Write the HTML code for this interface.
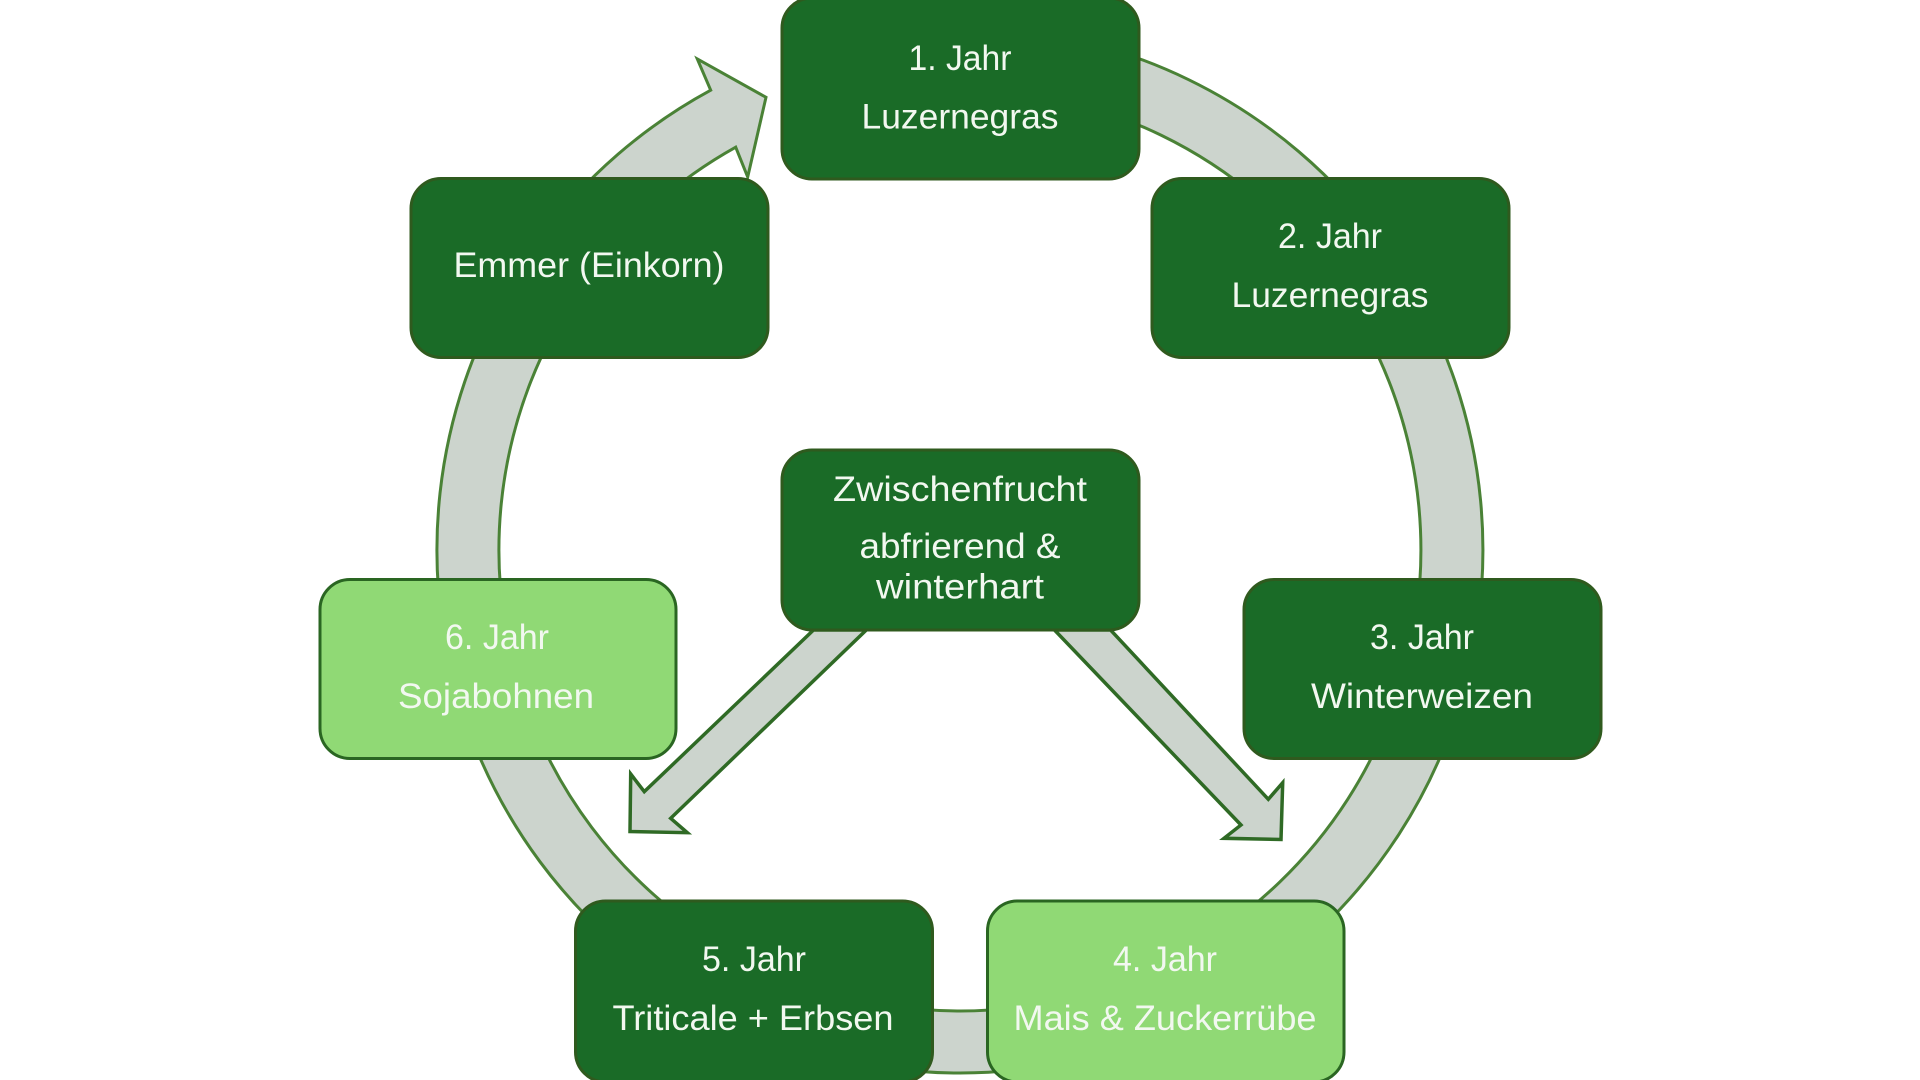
<!DOCTYPE html>
<html lang="de">
<head>
<meta charset="utf-8">
<title>Fruchtfolge</title>
<style>
html,body{margin:0;padding:0;background:#fff;width:1920px;height:1080px;overflow:hidden}
svg{display:block}
text{font-family:"Liberation Sans",sans-serif;font-size:35px;fill:#f2f8f0;text-anchor:middle}
.d{fill:#1a6b27;stroke:#2f5a1e;stroke-width:3}
.l{fill:#90d975;stroke:#2a6622;stroke-width:3}
.a{fill:#ccd4cd;stroke:#4a8236;stroke-width:3;stroke-linejoin:miter}
.b{fill:#ccd4cd;stroke:#2f6a25;stroke-width:3.5;stroke-linejoin:miter}
</style>
</head>
<body>
<svg width="1920" height="1080" viewBox="0 0 1920 1080" xmlns="http://www.w3.org/2000/svg">
<path class="a" d="M960 27 A523 523 0 1 1 710.7 90.2 L697.3 59 L766 97.3 L747.7 177 L735.7 147.2 A461 461 0 1 0 960 89 Z"/>
<path class="b" d="M813.5 630 L644.3 791.7 L630.7 774 L630 831.5 L687.3 832.7 L670.7 818.3 L866.3 630 Z"/>
<path class="b" d="M1054.5 630 L1241 825 L1224 838.3 L1281 839.5 L1282.7 782.7 L1268.3 799.3 L1110.6 630 Z"/>

<rect class="d" x="782" y="-2" width="357" height="181" rx="30"/>
<rect class="d" x="1152" y="178.5" width="357" height="179" rx="30"/>
<rect class="d" x="1244" y="579.5" width="357" height="179" rx="30"/>
<rect class="l" x="987.5" y="901" width="356.5" height="181" rx="30"/>
<rect class="d" x="575.5" y="901" width="357" height="181" rx="30"/>
<rect class="l" x="320" y="579.5" width="356" height="179" rx="30"/>
<rect class="d" x="411" y="178.5" width="357" height="179" rx="30"/>
<rect class="d" x="782" y="450" width="357" height="180" rx="30"/>

<text x="960" y="70" textLength="103" lengthAdjust="spacingAndGlyphs">1. Jahr</text>
<text x="960" y="128.5" textLength="197" lengthAdjust="spacingAndGlyphs">Luzernegras</text>
<text x="1330" y="248" textLength="104" lengthAdjust="spacingAndGlyphs">2. Jahr</text>
<text x="1330" y="307" textLength="197" lengthAdjust="spacingAndGlyphs">Luzernegras</text>
<text x="1422" y="649" textLength="104" lengthAdjust="spacingAndGlyphs">3. Jahr</text>
<text x="1422" y="708" textLength="222" lengthAdjust="spacingAndGlyphs">Winterweizen</text>
<text x="1165" y="971" textLength="104" lengthAdjust="spacingAndGlyphs">4. Jahr</text>
<text x="1165" y="1030" textLength="303" lengthAdjust="spacingAndGlyphs">Mais &amp; Zuckerrübe</text>
<text x="754" y="971" textLength="104" lengthAdjust="spacingAndGlyphs">5. Jahr</text>
<text x="753" y="1030" textLength="281" lengthAdjust="spacingAndGlyphs">Triticale + Erbsen</text>
<text x="497" y="649" textLength="104" lengthAdjust="spacingAndGlyphs">6. Jahr</text>
<text x="496" y="708" textLength="196" lengthAdjust="spacingAndGlyphs">Sojabohnen</text>
<text x="589" y="277" textLength="271" lengthAdjust="spacingAndGlyphs">Emmer (Einkorn)</text>
<text x="960" y="501" textLength="254" lengthAdjust="spacingAndGlyphs">Zwischenfrucht</text>
<text x="960" y="558" textLength="201" lengthAdjust="spacingAndGlyphs">abfrierend &amp;</text>
<text x="960" y="598.5" textLength="168" lengthAdjust="spacingAndGlyphs">winterhart</text>
</svg>
</body>
</html>
